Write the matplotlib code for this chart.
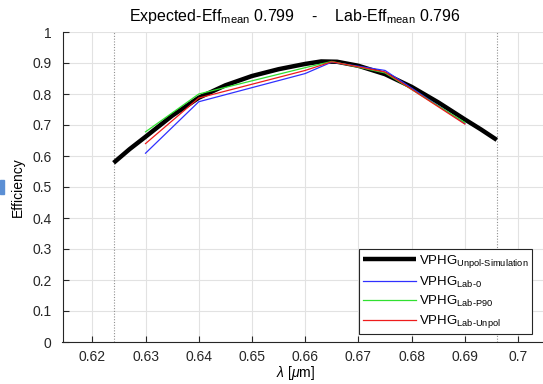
import numpy as np
import matplotlib
matplotlib.use("Agg")
import matplotlib.pyplot as plt
from matplotlib.patches import Rectangle

plt.rcParams['font.family'] = ['Liberation Sans', 'DejaVu Sans']
plt.rcParams['mathtext.fontset'] = 'custom'
plt.rcParams['mathtext.rm'] = 'Liberation Sans'
plt.rcParams['mathtext.it'] = 'Liberation Sans:italic'

# simulated efficiency
sim_wl = [0.624, 0.627, 0.630, 0.635, 0.640, 0.645, 0.650, 0.655, 0.660, 0.663,
          0.666, 0.670, 0.675, 0.680, 0.685, 0.690, 0.693, 0.696]
sim_eff = [0.578, 0.622, 0.662, 0.730, 0.788, 0.828, 0.858, 0.880, 0.897, 0.905,
           0.904, 0.891, 0.864, 0.823, 0.773, 0.718, 0.686, 0.652]

# lab measurements
lab_wl = [0.630, 0.640, 0.660, 0.665, 0.675, 0.690]
lab_0 = [0.609, 0.775, 0.866, 0.903, 0.876, 0.705]
lab_p90 = [0.678, 0.800, 0.885, 0.905, 0.868, 0.708]
lab_unpol = [0.640, 0.787, 0.876, 0.904, 0.871, 0.703]

band_lo, band_hi = 0.624, 0.696
xticks = [0.62, 0.63, 0.64, 0.65, 0.66, 0.67, 0.68, 0.69, 0.70]
xticklabels = ['0.62', '0.63', '0.64', '0.65', '0.66', '0.67', '0.68', '0.69', '0.7']
yticks = [0, 0.1, 0.2, 0.3, 0.4, 0.5, 0.6, 0.7, 0.8, 0.9, 1.0]
yticklabels = ['0', '0.1', '0.2', '0.3', '0.4', '0.5', '0.6', '0.7', '0.8', '0.9', '1']

fig = plt.figure(figsize=(5.43, 3.84), dpi=100)
ax = fig.add_axes([62.5/543, 1 - 342/384, (550 - 62.5)/543, (342 - 32)/384])

ax.plot(sim_wl, sim_eff, color='black', lw=3.2, solid_capstyle='butt',
        label=r'VPHG$\mathregular{_{Unpol\text{-}Simulation}}$', zorder=3)
ax.plot(lab_wl, lab_0, color='#3030ff', lw=0.9, label=r'VPHG$\mathregular{_{Lab\text{-}0}}$', zorder=4)
ax.plot(lab_wl, lab_p90, color='#30e030', lw=0.9, label=r'VPHG$\mathregular{_{Lab\text{-}P90}}$', zorder=4)
ax.plot(lab_wl, lab_unpol, color='#ee1c1c', lw=0.9, label=r'VPHG$\mathregular{_{Lab\text{-}Unpol}}$', zorder=4)

ax.axvline(band_lo, color='#909090', lw=0.8, ls=(0, (1, 1.5)), zorder=2)
ax.axvline(band_hi, color='#909090', lw=0.8, ls=(0, (1, 1.5)), zorder=2)

ax.set_xlim(0.6144, 0.706)
ax.set_ylim(0, 1)
ax.set_xticks(xticks)
ax.set_xticklabels(xticklabels)
ax.set_yticks(yticks)
ax.set_yticklabels(yticklabels)
ax.grid(True, color='#e2e2e2', lw=0.8)
ax.set_axisbelow(True)
ax.tick_params(direction='in', length=4, labelsize=10, colors='#262626')
ax.tick_params(axis='x', pad=6)
ax.tick_params(axis='y', pad=8)
for s in ['top', 'right']:
    ax.spines[s].set_visible(False)
for s in ['left', 'bottom']:
    ax.spines[s].set_color('#262626')
    ax.spines[s].set_linewidth(0.8)

ax.set_xlabel(r'$\lambda$ [$\mu$m]', fontsize=10, labelpad=0, x=0.477)
ax.set_ylabel('Efficiency', fontsize=10, labelpad=5)
ax.set_title(r'Expected-Eff$\mathregular{_{mean}}$ 0.799    -    Lab-Eff$\mathregular{_{mean}}$ 0.796',
             fontsize=11.5, pad=8, x=0.477)

leg = ax.legend(loc='lower right', bbox_to_anchor=(539/543, 1 - 341/384),
                bbox_transform=fig.transFigure, fontsize=9.5, handlelength=4.0,
                handletextpad=0.2, labelspacing=0.33, borderpad=0.3,
                fancybox=False, framealpha=1, edgecolor='#262626')
leg.get_frame().set_linewidth(0.8)

# small blue artifact on the left edge of the reference
fig.patches.append(Rectangle((0, 1 - 194/384), 4/543, 14/384, transform=fig.transFigure,
                             color='#5b8fd4', zorder=10))

fig.savefig('out.png', dpi=100)
